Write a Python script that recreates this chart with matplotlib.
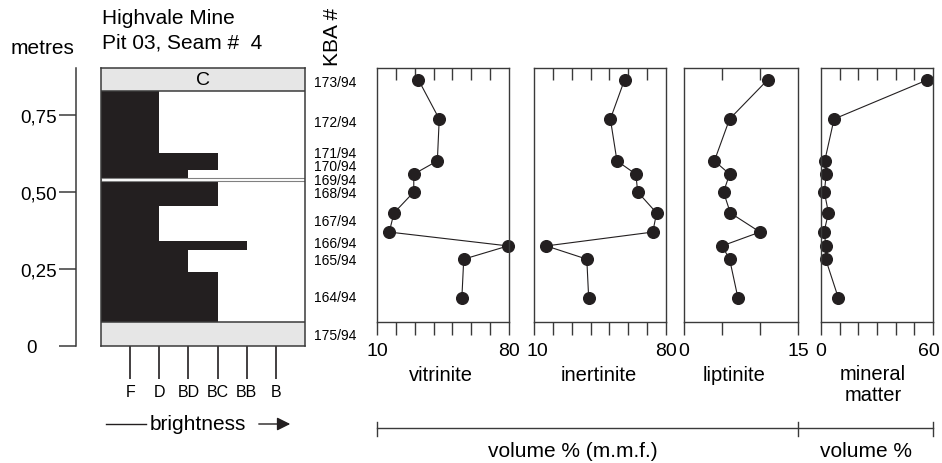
import matplotlib
matplotlib.use("Agg")
import matplotlib.pyplot as plt
from matplotlib.lines import Line2D
from matplotlib.patches import FancyArrowPatch
from matplotlib.transforms import ScaledTranslation

# Profil kolom batubara Highvale Mine dengan komposisi maseral per sampel KBA

plt.rcParams['font.family'] = ['Liberation Sans', 'DejaVu Sans']

W, H = 942, 464
HITAM = '#231f20'
ABU = '#e6e6e6'
GARIS = '#3a3a3a'

# Kedalaman sampel (m) dan nilai komposisi (volume %)
kedalaman  = [0.864, 0.737, 0.601, 0.558, 0.500, 0.432, 0.370, 0.325, 0.282, 0.156]
vitrinite  = [32, 43, 42, 29.5, 29.5, 19, 16.5, 79.5, 56, 55]
inertinite = [58, 50.5, 54, 64, 65, 75, 73, 16.5, 38, 39]
liptinite  = [11, 6, 4, 6, 5.2, 6.1, 10, 5, 6, 7.1]
mineral    = [57, 7, 2, 2.8, 1.8, 4, 1.6, 2.7, 2.5, 9.3]

# Label nomor KBA dan posisinya (m)
kba_label = ['173/94', '172/94', '171/94', '170/94', '169/94', '168/94',
             '167/94', '166/94', '165/94', '164/94', '175/94']
kba_pos = [0.857, 0.727, 0.627, 0.584, 0.539, 0.497, 0.406, 0.334, 0.279, 0.159, 0.036]

# Lapisan kecerahan (1=F ... 6=B)
lapisan_bawah = [0.078, 0.240, 0.312, 0.341, 0.455, 0.545, 0.571, 0.627]
lapisan_atas  = [0.240, 0.312, 0.341, 0.455, 0.536, 0.571, 0.627, 0.828]
kecerahan     = [4, 3, 5, 2, 4, 3, 4, 2]
kelas_kecerahan = ['F', 'D', 'BD', 'BC', 'BB', 'B']

Y_ATAS = 0.9026


def kotak(l, t, r, b):
    return [l / W, 1 - b / H, (r - l) / W, (b - t) / H]


def fx(x):
    return x / W


def fy(y):
    return 1 - y / H


def geser(teks, dx_px):
    # geser label sumbu sebanyak dx piksel
    teks.set_transform(teks.get_transform() + ScaledTranslation(dx_px / 100, 0, fig.dpi_scale_trans))


fig = plt.figure(figsize=(W / 100, H / 100), dpi=100)

# Sumbu metres
ax_m = fig.add_axes(kotak(76, 69, 77, 347))
ax_m.set_facecolor('none')
for s in ['top', 'right', 'bottom']:
    ax_m.spines[s].set_visible(False)
ax_m.spines['left'].set_color(GARIS)
ax_m.spines['left'].set_linewidth(1.1)
ax_m.set_ylim(0, Y_ATAS)
ax_m.set_xticks([])
ax_m.set_yticks([0, 0.25, 0.5, 0.75], ['0', '0,25', '0,50', '0,75'])
ax_m.tick_params(axis='y', direction='out', length=12.2, width=1.1, color=GARIS,
                 pad=1.5, labelsize=13.5)
geser(ax_m.get_yticklabels()[0], -20)

# Kolom kecerahan
ax_k = fig.add_axes(kotak(101, 69, 305, 347))
ax_k.set_xlim(0, 7)
ax_k.set_ylim(0, Y_ATAS)
ax_k.axhspan(0.828, Y_ATAS, color=ABU, lw=0)
ax_k.axhspan(0, 0.078, color=ABU, lw=0)
tinggi = [a - b for a, b in zip(lapisan_atas, lapisan_bawah)]
ax_k.barh(lapisan_bawah, kecerahan, height=tinggi, left=0, align='edge', color=HITAM, lw=0)
ax_k.axhspan(0.536, 0.545, facecolor='white', edgecolor='#808080', lw=0.8)
ax_k.axhline(0.828, color=GARIS, lw=1.1)
ax_k.axhline(0.078, color=GARIS, lw=1.1)
ax_k.text(3.5, 0.865, 'C', ha='center', va='center', fontsize=14)
for s in ax_k.spines.values():
    s.set_color(GARIS)
    s.set_linewidth(1.1)
ax_k.set_yticks([])
ax_k.set_xticks(range(1, 7), kelas_kecerahan)
ax_k.tick_params(axis='x', direction='out', length=23.8, width=1.2, color=HITAM,
                 pad=3.5, labelsize=11.5)

for lab, pos in zip(kba_label, kba_pos):
    ax_k.text(8.03, pos, lab, ha='center', va='center', fontsize=10, clip_on=False)

# Panel komposisi
panel = [
    (kotak(377, 69, 509, 323), vitrinite, (10, 80), list(range(10, 81, 10)), 'vitrinite', 441),
    (kotak(534, 69, 666, 323), inertinite, (10, 80), list(range(10, 81, 10)), 'inertinite', 599),
    (kotak(684, 69, 798, 323), liptinite, (0, 15), [0, 5, 10, 15], 'liptinite', 734),
    (kotak(821, 69, 933, 323), mineral, (0, 60), list(range(0, 61, 10)), 'mineral\nmatter', 873),
]
sumbu_panel = []
for pos, nilai, batas, ticks, nama, xt in panel:
    ax = fig.add_axes(pos)
    sumbu_panel.append(ax)
    ax.plot(nilai, kedalaman, color=HITAM, lw=0.8, marker='o', markersize=8.4,
            clip_on=False)
    ax.set_xlim(*batas)
    ax.set_ylim(0.078, Y_ATAS)
    ax.set_yticks([])
    label = [''] * len(ticks)
    label[0] = str(ticks[0])
    label[-1] = str(ticks[-1])
    ax.set_xticks(ticks, label)
    ax.tick_params(axis='x', direction='out', length=9.5, width=1.0, color=GARIS,
                   pad=5, labelsize=14)
    for s in ax.spines.values():
        s.set_color(GARIS)
        s.set_linewidth(1.0)
    atas = ax.secondary_xaxis('top')
    atas.set_xticks(ticks[1:-1], [''] * (len(ticks) - 2))
    atas.tick_params(direction='in', length=8.6, width=1.0, color=GARIS)
    atas.spines['top'].set_visible(False)
    if '\n' in nama:
        fig.text(fx(xt), fy(385), nama, ha='center', va='center', fontsize=14.5,
                 linespacing=1.1)
    else:
        fig.text(fx(xt), fy(376), nama, ha='center', va='center', fontsize=14.5)

# rapikan label ujung yang berdempetan
geser(sumbu_panel[1].get_xticklabels()[0], 3)
geser(sumbu_panel[3].get_xticklabels()[-1], -4)

# Teks judul
fig.text(fx(102), fy(18), 'Highvale Mine', ha='left', va='center', fontsize=15)
fig.text(fx(102), fy(43), 'Pit 03, Seam #  4', ha='left', va='center', fontsize=15)
fig.text(fx(43), fy(49), 'metres', ha='center', va='center', fontsize=15)
fig.text(fx(333), fy(37), 'KBA #', ha='center', va='center', fontsize=15, rotation=90)

# Label kecerahan dengan panah
fig.text(fx(198), fy(425), 'brightness', ha='center', va='center', fontsize=15)
fig.add_artist(Line2D([fx(106), fx(146)], [fy(425), fy(425)], color=HITAM, lw=1))
fig.add_artist(FancyArrowPatch((fx(256), fy(425)), (fx(293), fy(425)),
                               transform=fig.transFigure, arrowstyle='-|>',
                               mutation_scale=20, lw=1, color=HITAM))

# Garis skala volume
y_sk = fy(429)
fig.add_artist(Line2D([fx(377), fx(933)], [y_sk, y_sk], color=GARIS, lw=1))
for xk in [377, 798, 933]:
    fig.add_artist(Line2D([fx(xk), fx(xk)], [fy(423), fy(437)], color=GARIS, lw=1))
fig.text(fx(573), fy(452), 'volume % (m.m.f.)', ha='center', va='center', fontsize=15)
fig.text(fx(866), fy(452), 'volume %', ha='center', va='center', fontsize=15)

fig.savefig('out.png', dpi=100)
